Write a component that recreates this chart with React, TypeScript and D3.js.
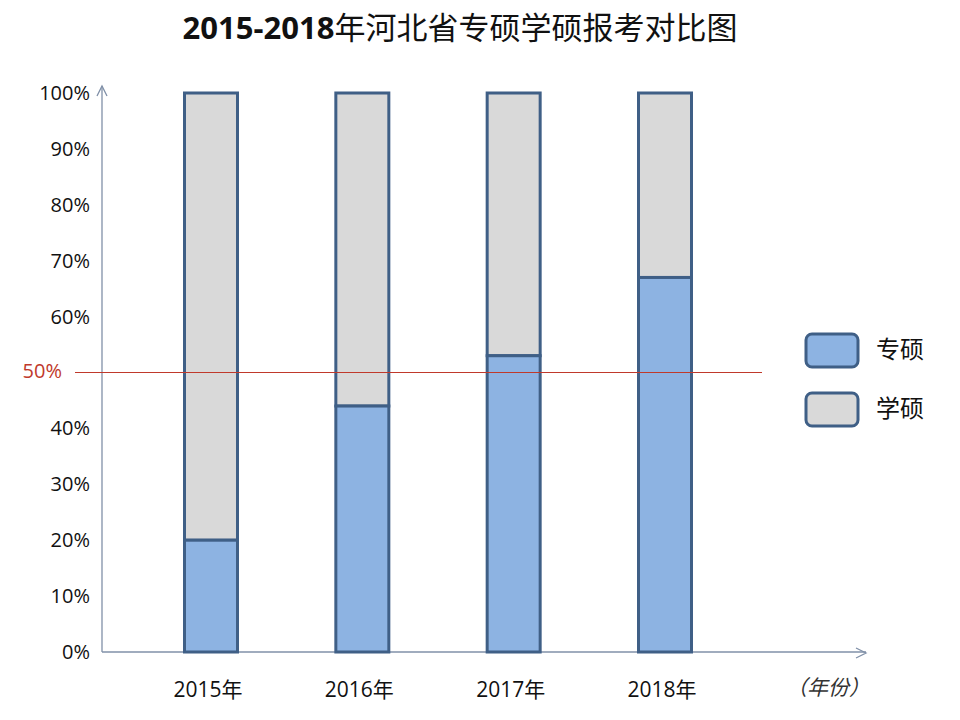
import React from "react";
import * as d3 from "d3";

const years = ["2015年", "2016年", "2017年", "2018年"];
const zhuanshuo = [20, 44, 53, 67];
const xueshuo = [80, 56, 47, 33];
const yTicks = [0, 10, 20, 30, 40, 60, 70, 80, 90, 100];
const refLine = 50;
const seriesNames = ["专硕", "学硕"];
const colors = ["#8db3e2", "#d9d9d9"];

export default function App() {
  const W = 960, H = 720;
  const y = d3.scaleLinear().domain([0, 100]).range([652, 93]);
  const x = d3.scalePoint<string>().domain(years).range([211, 665]);
  const bw = 53;
  const font = "'Open Sans', 'Noto Sans CJK SC', sans-serif";
  const cjk = "'Noto Sans CJK SC', sans-serif";
  const stroke = "#3f5f86";
  const axisColor = "#8090a8";

  return (
    <svg width={W} height={H} style={{ position: "absolute", left: 0, top: 0, background: "#fff" }}>
      <rect width={W} height={H} fill="#fff" />
      <text x={460} y={39} textAnchor="middle" fontSize={31} fill="#111" fontFamily={cjk}>
        <tspan fontWeight="bold" fontFamily="'Open Sans', sans-serif">2015-2018</tspan>
        <tspan>年河北省专硕学硕报考对比图</tspan>
      </text>

      {/* axes */}
      <line x1={102} y1={y(0)} x2={102} y2={86} stroke={axisColor} strokeWidth={1.3} />
      <polyline points={`97,96 102,86 107,96`} fill="none" stroke={axisColor} strokeWidth={1.3} />
      <line x1={102} y1={y(0)} x2={866} y2={y(0)} stroke={axisColor} strokeWidth={1.3} />
      <polyline points={`856,648 866,653 856,658`} fill="none" stroke={axisColor} strokeWidth={1.3} />

      {yTicks.map((t) => (
        <text key={t} x={90} y={y(t)} dy="0.35em" textAnchor="end" fontSize={20} fill="#111" fontFamily={font}>
          {t}%
        </text>
      ))}

      {years.map((yr, i) => {
        const cx = x(yr)!;
        const a = zhuanshuo[i];
        const b = xueshuo[i];
        return (
          <g key={yr}>
            <rect x={cx - bw / 2} y={y(a + b)} width={bw} height={y(a) - y(a + b)} fill={colors[1]} stroke={stroke} strokeWidth={3} />
            <rect x={cx - bw / 2} y={y(a)} width={bw} height={y(0) - y(a)} fill={colors[0]} stroke={stroke} strokeWidth={3} />
            <text x={cx - 3} y={690} dy="0.35em" textAnchor="middle" fontSize={21} fill="#111" fontFamily={font}>
              {yr}
            </text>
          </g>
        );
      })}

      <line x1={75} x2={762} y1={y(refLine)} y2={y(refLine)} stroke="#c0392b" strokeWidth={1.2} />
      <text x={62} y={y(refLine)} dy="0.25em" textAnchor="end" fontSize={20} fill="#c0392b" fontFamily={font}>
        {refLine}%
      </text>

      <text x={828} y={688} dy="0.35em" textAnchor="middle" fontSize={21} fontStyle="italic" fill="#333" fontFamily={cjk}>
        （年份）
      </text>

      {seriesNames.map((s, i) => (
        <g key={s}>
          <rect x={806} y={334 + i * 59} width={52} height={33} rx={6} fill={colors[i]} stroke={stroke} strokeWidth={3} />
          <text x={876} y={350 + i * 59} dy="0.35em" fontSize={24} fill="#111" fontFamily={cjk}>
            {s}
          </text>
        </g>
      ))}
    </svg>
  );
}
